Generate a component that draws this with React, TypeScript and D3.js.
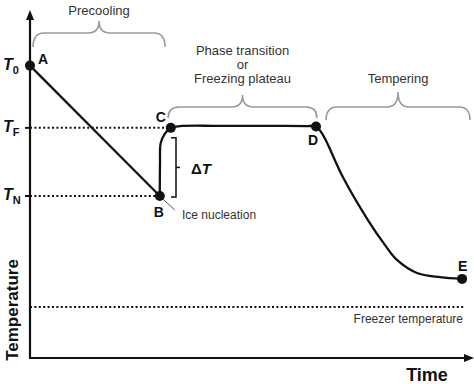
import React from "react";
import * as d3 from "d3";

// Conceptual freezing curve (arbitrary units: time 0-100, temperature 0-100)
const precoolTime = [0, 29.5];
const precoolTemp = [85, 47.1];

const freezeTime = [29.5, 29.55, 29.7, 30.7, 32, 34.1, 42, 50, 58, 63, 65, 66.6, 71.1, 76.8, 80.7, 83.4, 87.95, 93.2, 98.2];
const freezeTemp = [47.1, 56.7, 62.4, 65.3, 66.9, 67.4, 67.5, 67.5, 67.5, 67.4, 67.3, 64.8, 52.6, 40.1, 32.8, 28.5, 24.7, 23.5, 23.0];

const pointNames = ["A", "B", "C", "D", "E"];
const pointTime = [0, 29.5, 32, 65, 98.2];
const pointTemp = [85, 47.1, 66.9, 67.3, 23.0];

const levelNames = ["0", "F", "N"];
const levelTemp = [85, 66.9, 47.1];
const levelEndTime = [0, 32, 29.5];

const freezerTemp = 14.8;

const phaseNames = ["Precooling", "Phase transition|or|Freezing plateau", "Tempering"];
const phaseStart = [0.7, 31.4, 67.3];
const phaseEnd = [30.7, 65.2, 100];

const W = 474, H = 384;
const x = d3.scaleLinear().domain([0, 100]).range([30, 470]);
const y = d3.scaleLinear().domain([0, 100]).range([358, 14]);

const font = "Arial, 'Liberation Sans', sans-serif";

function bracePath(x1: number, x2: number, yEnd: number, yH: number, yTip: number) {
  const xm = (x1 + x2) / 2;
  const r = 11;
  return `M${x1},${yEnd} Q${x1},${yH} ${x1 + r},${yH} L${xm - r},${yH} Q${xm},${yH} ${xm},${yTip} Q${xm},${yH} ${xm + r},${yH} L${x2 - r},${yH} Q${x2},${yH} ${x2},${yEnd}`;
}

export default function App() {
  const linePre = d3.line<number>().x((_, i) => x(precoolTime[i])).y((_, i) => y(precoolTemp[i]));
  const lineFreeze = d3
    .line<number>()
    .x((_, i) => x(freezeTime[i]))
    .y((_, i) => y(freezeTemp[i]))
    .curve(d3.curveCatmullRom.alpha(0.5));

  const braceY = [[47, 33, 21], [118, 107, 95], [120, 107, 92]];
  const textY = [[15], [55, 69, 83], [83]];

  const x0 = x(0);
  const yBase = y(0);
  const dTop = y(levelTemp[1]) + 10;
  const dBot = y(levelTemp[2]) + 1;
  const dMid = (dTop + dBot) / 2;

  return (
    <svg width={W} height={H} style={{ position: "absolute", left: 0, top: 0, background: "#fff" }} fontFamily={font}>
      {/* axes */}
      <line x1={x0} y1={yBase} x2={x0} y2={18} stroke="#111" strokeWidth={2.2} />
      <path d={`M${x0 - 4},${20} L${x0},${10} L${x0 + 4},${20} Z`} fill="#111" />
      <line x1={x0 - 1} y1={yBase} x2={466} y2={yBase} stroke="#111" strokeWidth={2.2} />
      <path d={`M${464},${yBase - 4} L${474},${yBase} L${464},${yBase + 4} Z`} fill="#111" />

      {/* level dotted lines and tick labels */}
      {levelNames.map((n, i) => (
        <g key={n}>
          <line x1={x0 - 5} x2={x0} y1={y(levelTemp[i])} y2={y(levelTemp[i])} stroke="#111" strokeWidth={2} />
          {levelEndTime[i] > 0 && (
            <line x1={x0} x2={x(levelEndTime[i])} y1={y(levelTemp[i])} y2={y(levelTemp[i])} stroke="#111" strokeWidth={2} strokeDasharray="2 2.4" />
          )}
          <text x={3} y={y(levelTemp[i]) + 4} fontSize={16} fontWeight="bold" fill="#111">
            <tspan fontStyle="italic">T</tspan>
            <tspan fontSize={11} dy={4}>{n}</tspan>
          </text>
        </g>
      ))}

      {/* freezer temperature */}
      <line x1={x0} x2={465} y1={y(freezerTemp)} y2={y(freezerTemp)} stroke="#111" strokeWidth={2} strokeDasharray="2 2.4" />
      <text x={463} y={y(freezerTemp) + 16} fontSize={12} textAnchor="end" fill="#333">Freezer temperature</text>

      {/* curve */}
      <path d={linePre(precoolTime) || ""} fill="none" stroke="#111" strokeWidth={2.3} />
      <path d={lineFreeze(freezeTime) || ""} fill="none" stroke="#111" strokeWidth={2.3} />

      {/* points */}
      {pointNames.map((n, i) => (
        <circle key={n} cx={x(pointTime[i])} cy={y(pointTemp[i])} r={5} fill="#111" />
      ))}
      <text x={x(pointTime[0]) + 8} y={y(pointTemp[0]) - 2} fontSize={14} fontWeight="bold" fill="#111">A</text>
      <text x={x(pointTime[1]) - 6} y={y(pointTemp[1]) + 21} fontSize={14} fontWeight="bold" fill="#111">B</text>
      <text x={x(pointTime[2]) - 15} y={y(pointTemp[2]) - 6} fontSize={14} fontWeight="bold" fill="#111">C</text>
      <text x={x(pointTime[3]) - 8} y={y(pointTemp[3]) + 19} fontSize={14} fontWeight="bold" fill="#111">D</text>
      <text x={x(pointTime[4]) - 4} y={y(pointTemp[4]) - 8} fontSize={14} fontWeight="bold" fill="#111">E</text>

      {/* ice nucleation leader */}
      <line x1={x(pointTime[1]) + 3} y1={y(pointTemp[1]) + 3} x2={x(pointTime[1]) + 15} y2={y(pointTemp[1]) + 14} stroke="#555" strokeWidth={1} />
      <text x={182} y={219} fontSize={12} fill="#333">Ice nucleation</text>

      {/* delta T bracket */}
      <path d={`M171,${dTop} L176,${dTop} L176,${dBot} L171,${dBot}`} fill="none" stroke="#111" strokeWidth={1.5} />
      <line x1={176} x2={180} y1={dMid} y2={dMid} stroke="#111" strokeWidth={1.5} />
      <text x={191} y={174} fontSize={15} fontWeight="bold" fill="#111">
        Δ<tspan fontStyle="italic">T</tspan>
      </text>

      {/* braces and phase labels */}
      {phaseNames.map((n, i) => {
        const x1 = x(phaseStart[i]);
        const x2 = x(phaseEnd[i]);
        const [ye, yh, yt] = braceY[i];
        const lines = n.split("|");
        return (
          <g key={n}>
            <path d={bracePath(x1, x2, ye, yh, yt)} fill="none" stroke="#9a9a9a" strokeWidth={1.6} />
            {lines.map((l, j) => (
              <text key={j} x={(x1 + x2) / 2} y={textY[i][j]} fontSize={13} textAnchor="middle" fill="#333">{l}</text>
            ))}
          </g>
        );
      })}

      {/* axis titles */}
      <text transform={`translate(18,310) rotate(-90)`} fontSize={17} fontWeight="bold" textAnchor="middle" fill="#111">Temperature</text>
      <text x={427} y={381} fontSize={18} fontWeight="bold" textAnchor="middle" fill="#111">Time</text>
    </svg>
  );
}
